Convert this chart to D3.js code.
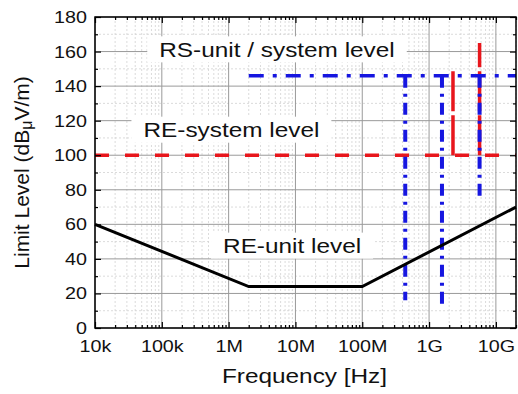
<!DOCTYPE html>
<html>
<head>
<meta charset="utf-8">
<script src="https://cdn.jsdelivr.net/npm/d3@7"></script>
<style>
  body { margin: 0; background: #fff; }
  text { font-family: "Liberation Sans", Arial, sans-serif; fill: #111; }
</style>
</head>
<body>
<div id="chart"></div>
<script>
// ----- data -----
var xTicks = [1e4, 1e5, 1e6, 1e7, 1e8, 1e9, 1e10]
var xTickLabels = ["10k", "100k", "1M", "10M", "100M", "1G", "10G"]
var yTicks = [0, 20, 40, 60, 80, 100, 120, 140, 160, 180]

// RE-unit level (black)
var reUnitFreq = [1e4, 2e6, 1e8, 2e10]
var reUnitLevel = [60, 24, 24, 70]

// RE-system level (red dashed)
var reSysFreq = [1e4, 2e10]
var reSysLevel = [100, 100]
var reSysSpikeFreq = [2.28e9, 5.7e9]
var reSysSpikeTop = [149, 165]

// RS-unit / system level (blue dash-dot)
var rsFreq = [2e6, 2e10]
var rsLevel = [146, 146]
var rsDropFreq = [4.4e8, 1.56e9, 5.7e9]
var rsDropBottom = [16, 13, 74]

var labels = [
  {text: "RS-unit / system level", freq: 5.3e6, level: 157},
  {text: "RE-system level", freq: 1.1e6, level: 110.5},
  {text: "RE-unit level", freq: 8.9e6, level: 43.4}
]

// ----- layout -----
var W = 518, H = 394
var margin = {top: 17, right: 2, bottom: 66, left: 95}
var width = W - margin.left - margin.right,
    height = H - margin.top - margin.bottom
var sx = 1.16   // the original text is a bit wide

var red = "#e8161c", blue = "#1616e0"

var svg = d3.select("#chart").append("svg")
  .attr("width", W).attr("height", H)

var g = svg.append("g")
  .attr("transform", "translate(" + margin.left + "," + margin.top + ")")

var x = d3.scaleLog().domain([1e4, 2e10]).range([0, width])
var y = d3.scaleLinear().domain([0, 180]).range([height, 0])

// minor values
var xMinor = []
xTicks.forEach(function(t) {
  for (var k = 2; k <= 9; k++) { if (t * k <= 2e10) xMinor.push(t * k) }
})
var yMinor = d3.range(10, 180, 20)

// ----- grid -----
var grid = g.append("g")
grid.selectAll(".xminor").data(xMinor).enter().append("line")
  .attr("x1", d => x(d)).attr("x2", d => x(d))
  .attr("y1", 0).attr("y2", height)
  .attr("stroke", "#d2d2d2").attr("stroke-width", 0.8).attr("stroke-dasharray", "2,2")
grid.selectAll(".yminor").data(yMinor).enter().append("line")
  .attr("x1", 0).attr("x2", width)
  .attr("y1", d => y(d)).attr("y2", d => y(d))
  .attr("stroke", "#d2d2d2").attr("stroke-width", 0.8).attr("stroke-dasharray", "2,2")
grid.selectAll(".xmajor").data(xTicks).enter().append("line")
  .attr("x1", d => x(d)).attr("x2", d => x(d))
  .attr("y1", 0).attr("y2", height)
  .attr("stroke", "#9a9a9a").attr("stroke-width", 1)
grid.selectAll(".ymajor").data(yTicks).enter().append("line")
  .attr("x1", 0).attr("x2", width)
  .attr("y1", d => y(d)).attr("y2", d => y(d))
  .attr("stroke", "#9a9a9a").attr("stroke-width", 1)

// ----- annotation labels with white boxes -----
var lab = g.append("g")
labels.forEach(function(l) {
  var t = lab.append("text")
    .attr("transform", "translate(" + x(l.freq) + "," + y(l.level) + ") scale(" + sx + ",1)")
    .attr("text-anchor", "middle")
    .style("font-size", "21px")
    .text(l.text)
  var bb = t.node().getBBox()
  lab.insert("rect", "text")
    .attr("x", x(l.freq) + bb.x * sx - 12).attr("y", y(l.level) + bb.y - 1)
    .attr("width", bb.width * sx + 24).attr("height", bb.height + 2)
    .attr("fill", "#fff")
})

// ----- lines -----
var line = d3.line().x(d => x(d[0])).y(d => y(d[1]))

// red
g.append("path")
  .datum(d3.zip(reSysFreq, reSysLevel))
  .attr("d", line).attr("fill", "none")
  .attr("stroke", red).attr("stroke-width", 3.5).attr("stroke-dasharray", "14,16")
reSysSpikeFreq.forEach(function(f, i) {
  g.append("path")
    .datum([[f, reSysLevel[0]], [f, reSysSpikeTop[i]]])
    .attr("d", line).attr("fill", "none")
    .attr("stroke", red).attr("stroke-width", 3.5).attr("stroke-dasharray", "40,4")
})

// blue
g.append("path")
  .datum(d3.zip(rsFreq, rsLevel))
  .attr("d", line).attr("fill", "none")
  .attr("stroke", blue).attr("stroke-width", 3.5).attr("stroke-dasharray", "15,9,4,9")
rsDropFreq.forEach(function(f, i) {
  g.append("path")
    .datum([[f, rsLevel[0]], [f, rsDropBottom[i]]])
    .attr("d", line).attr("fill", "none")
    .attr("stroke", blue).attr("stroke-width", 4).attr("stroke-dasharray", "12,6,3,6")
})

// black
g.append("path")
  .datum(d3.zip(reUnitFreq, reUnitLevel))
  .attr("d", line).attr("fill", "none")
  .attr("stroke", "#000").attr("stroke-width", 3)

// ----- axes (ticks inward on all sides) -----
function styleAxis(sel) {
  sel.select(".domain").remove()
  sel.selectAll("line").attr("stroke", "#000").attr("stroke-width", 1.2)
  sel.selectAll("text").style("font-size", "17px").attr("fill", "#111")
    .attr("transform", "scale(" + sx + ",1)")
}

g.append("g").attr("transform", "translate(0," + height + ")")
  .call(d3.axisBottom(x).tickValues(xTicks).tickFormat((d, i) => xTickLabels[i])
    .tickSizeInner(-6).tickSizeOuter(0).tickPadding(12))
  .call(styleAxis)
g.append("g").attr("transform", "translate(0," + height + ")")
  .call(d3.axisBottom(x).tickValues(xMinor).tickFormat("").tickSizeInner(-3).tickSizeOuter(0))
  .call(styleAxis)
g.append("g")
  .call(d3.axisTop(x).tickValues(xTicks).tickFormat("").tickSizeInner(-6).tickSizeOuter(0))
  .call(styleAxis)
g.append("g")
  .call(d3.axisTop(x).tickValues(xMinor).tickFormat("").tickSizeInner(-3).tickSizeOuter(0))
  .call(styleAxis)

g.append("g")
  .call(d3.axisLeft(y).tickValues(yTicks).tickSizeInner(-6).tickSizeOuter(0).tickPadding(7))
  .call(styleAxis)
g.append("g")
  .call(d3.axisLeft(y).tickValues(yMinor).tickFormat("").tickSizeInner(-3).tickSizeOuter(0))
  .call(styleAxis)
g.append("g").attr("transform", "translate(" + width + ",0)")
  .call(d3.axisRight(y).tickValues(yTicks).tickFormat("").tickSizeInner(-6).tickSizeOuter(0))
  .call(styleAxis)
g.append("g").attr("transform", "translate(" + width + ",0)")
  .call(d3.axisRight(y).tickValues(yMinor).tickFormat("").tickSizeInner(-3).tickSizeOuter(0))
  .call(styleAxis)

// frame
g.append("rect")
  .attr("width", width).attr("height", height)
  .attr("fill", "none").attr("stroke", "#000").attr("stroke-width", 1.5)

// ----- axis titles -----
svg.append("text")
  .attr("transform", "translate(" + (margin.left + width / 2 - 1) + ",383) scale(" + sx + ",1)")
  .attr("text-anchor", "middle")
  .style("font-size", "21px")
  .text("Frequency [Hz]")

var yt = svg.append("text")
  .attr("transform", "translate(29," + (margin.top + height / 2) + ") rotate(-90)")
  .attr("text-anchor", "middle")
  .style("font-size", "21px")
yt.append("tspan").text("Limit Level (dB")
yt.append("tspan").style("font-size", "16px").attr("dy", 3).text("μ")
yt.append("tspan").attr("dy", -3).text("V/m)")
</script>
</body>
</html>
